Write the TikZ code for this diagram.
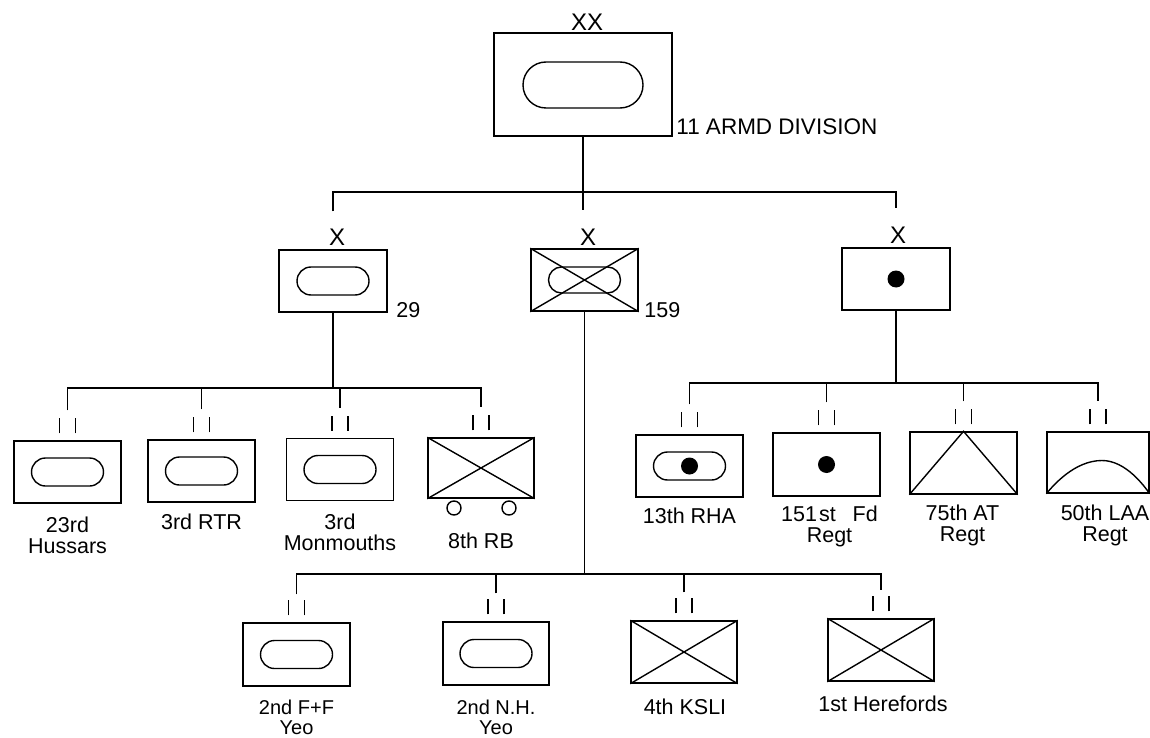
\documentclass[tikz,border=0pt]{standalone}
\usepackage{fontspec}
\setmainfont{Liberation Sans}
\usetikzlibrary{calc}
\begin{document}
\begin{tikzpicture}[x=1pt,y=-1pt,line width=1.4pt,
  unit/.style={draw,rectangle,inner sep=0pt,minimum width=107pt,minimum height=62pt},
  lbl/.style={font=\fontsize{21.5}{21}\selectfont,align=center,anchor=north,inner sep=0pt},
  num/.style={font=\fontsize{21.5}{21}\selectfont,anchor=base west,inner sep=0pt},
  ech/.style={font=\fontsize{24}{24}\selectfont,inner sep=0pt},
  armour/.pic={\draw[rounded corners=14pt] (-36,-14) rectangle (36,14);},
  twobar/.pic={\draw (-8,0) -- (-8,-15) (8,0) -- (8,-15);}]
\useasboundingbox (0,0) rectangle (1150,738);

% ---------- division ----------
\node[unit,minimum width=178pt,minimum height=103pt] (div) at (583,84.5) {};
\draw[rounded corners=23pt] (523,62) rectangle (643,108);
\node[ech] (xxdiv) at (587,22) {XX};
\node[num,font=\fontsize{22.5}{22}\selectfont] (ldiv) at ($(div.south east)+(3,-2)$) {11 ARMD DIVISION};

% ---------- brigades ----------
\node[unit,minimum width=108pt] (b29) at (333,281) {};
\pic at (b29) {armour};
\node[ech] (x29) at (337,237) {X};
\node[num] (l29) at ($(b29.south east)+(8,5)$) {29};

\node[unit] (b159) at (584.5,280) {};
\draw[rounded corners=13pt] ($(b159)+(-36,-13)$) rectangle ($(b159)+(36,13)$);
\draw (b159.north west) -- (b159.south east) (b159.north east) -- (b159.south west);
\node[ech] (x159) at (588,237) {X};
\node[num] (l159) at ($(b159.south east)+(5,6)$) {159};

\node[unit,minimum width=108pt] (bart) at (896,279) {};
\fill (bart) circle (8.5pt);
\node[ech] (xart) at (898,235) {X};

% ---------- 29 brigade units ----------
\node[unit] (hus) at (67.5,472) {};
\pic at (hus) {armour};
\node[unit] (rtr) at (201.5,471) {};
\pic at (rtr) {armour};
\node[unit] (mon) at (340,469.5) {};
\pic at (mon) {armour};
\node[unit,minimum width=106pt,minimum height=60pt] (rb) at (481,468) {};
\draw (rb.north west) -- (rb.south east) (rb.north east) -- (rb.south west);
\draw ($(rb)+(-27,40)$) circle (7pt) ($(rb)+(28,40)$) circle (7pt);

% ---------- artillery units ----------
\node[unit] (rha) at (689.5,466) {};
\pic at (rha) {armour};
\fill (rha) circle (8.5pt);
\node[unit,minimum height=63pt] (fd) at (826.5,464.5) {};
\fill (fd) circle (8.5pt);
\node[unit] (at) at (963.5,463) {};
\draw (at.south west) -- (at.north) -- (at.south east);
\node[unit,minimum width=102pt,minimum height=61pt] (laa) at (1098,462.5) {};
\draw (laa.south west) parabola bend ($(laa)+(4,-2)$) (laa.south east);

% ---------- 159 brigade units ----------
\node[unit,minimum height=63pt] (ff) at (296.5,654.5) {};
\pic at (ff) {armour};
\node[unit,minimum width=106pt,minimum height=63pt] (nh) at (496,653.5) {};
\pic at (nh) {armour};
\node[unit,minimum width=106pt] (ksli) at (684,652) {};
\draw (ksli.north west) -- (ksli.south east) (ksli.north east) -- (ksli.south west);
\node[unit,minimum width=106pt] (her) at (881,650) {};
\draw (her.north west) -- (her.south east) (her.north east) -- (her.south west);

% ---------- echelon bars ----------
\foreach \u in {hus,rtr,mon,rb,rha,fd,at,laa,ff,nh,ksli,her}
  \pic at ($(\u.north)+(0,-7)$) {twobar};

% ---------- labels ----------
\node[lbl] (thus) at ($(hus.south)+(0,13)$) {23rd\\Hussars};
\node[lbl] (trtr) at ($(rtr.south)+(0,11)$) {3rd RTR};
\node[lbl] (tmon) at ($(mon.south)+(0,12)$) {3rd\\Monmouths};
\node[lbl] (trb) at ($(rb.south)+(0,34)$) {8th RB};
\node[lbl] (trha) at ($(rha.south)+(0,10)$) {13th RHA};
\node[lbl] (tfd) at ($(fd.south)+(3,9)$) {151\hspace{2pt}st\hspace{17pt}Fd\\Regt};
\node[lbl] (tat) at ($(at.south)+(-1,10)$) {75th AT\\Regt};
\node[lbl] (tlaa) at ($(laa.south)+(7,11)$) {50th LAA\\Regt};
\node[lbl,font=\fontsize{20}{20}\selectfont] (tff) at ($(ff.south)+(0,13)$) {2nd F+F\\Yeo};
\node[lbl,font=\fontsize{20}{20}\selectfont] (tnh) at ($(nh.south)+(0,14)$) {2nd N.H.\\Yeo};
\node[lbl] (tksli) at ($(ksli.south)+(1,15)$) {4th KSLI};
\node[lbl] (ther) at ($(her.south)+(2,14)$) {1st Herefords};

% ---------- connectors ----------
\coordinate (busy) at (0,192);
\coordinate (busa) at (0,388);
\coordinate (busb) at (0,383);
\coordinate (busc) at (0,574);
\coordinate (e29) at ($(b29.north)+(0,-38)$);
\coordinate (e159) at ($(b159.north)+(0,-38)$);
\coordinate (eart) at ($(bart.north)+(0,-39)$);
\foreach \u in {hus,rtr,mon,rb,rha,fd,at,laa}
  \coordinate (e\u) at ($(\u.north)+(0,-30)$);
\foreach \u in {ff,nh,ksli,her}
  \coordinate (e\u) at ($(\u.north)+(0,-28)$);

\draw (div.south) -- (div.south |- e159);
\draw (e29) -- (e29 |- busy) -- (eart |- busy) -- (eart);

\draw (b29.south) -- (b29.south |- busa);
\draw (ehus) -- (ehus |- busa) -- (erb |- busa) -- (erb);
\draw (ertr) -- (ertr |- busa);
\draw (emon) -- (emon |- busa);

\draw (bart.south) -- (bart.south |- busb);
\draw (erha) -- (erha |- busb) -- (elaa |- busb) -- (elaa);
\draw (efd) -- (efd |- busb);
\draw (eat) -- (eat |- busb);

\draw (b159.south) -- (b159.south |- busc);
\draw (eff) -- (eff |- busc) -- (eher |- busc) -- (eher);
\draw (enh) -- (enh |- busc);
\draw (eksli) -- (eksli |- busc);
\end{tikzpicture}
\end{document}
